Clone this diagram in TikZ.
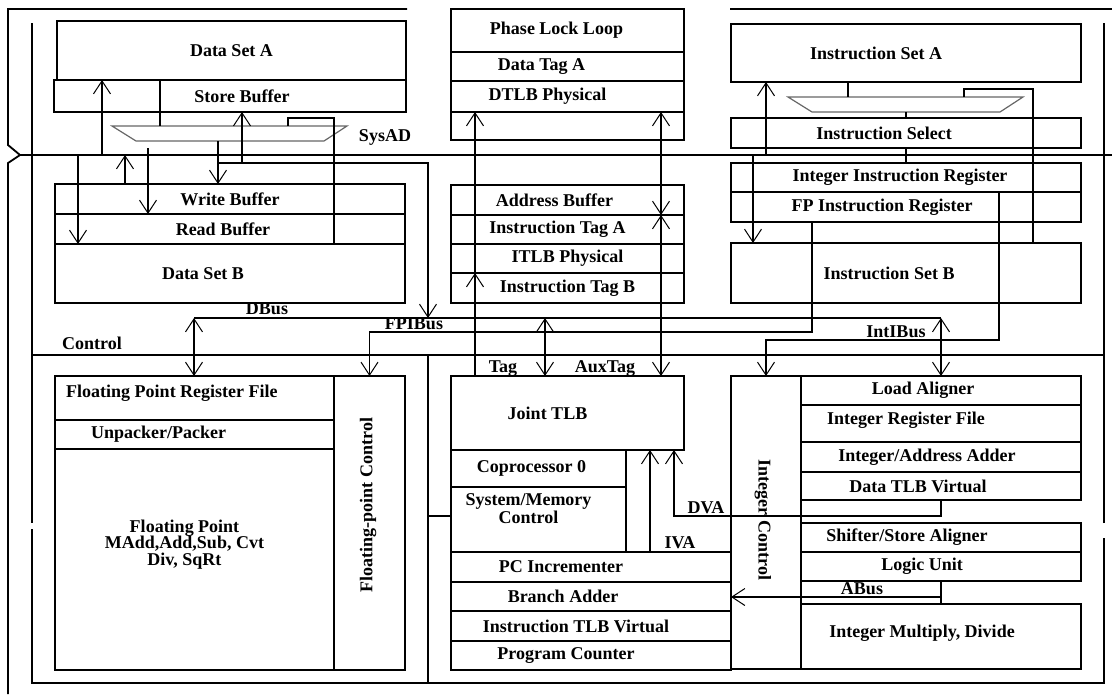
\documentclass[tikz,border=0pt]{standalone}
\usepackage{fontspec}
\setmainfont{Liberation Serif}
\usetikzlibrary{positioning,arrows.meta}

\tikzset{
  blk/.style={draw, inner sep=0pt, outer sep=0pt},
  tx/.style 2 args={label={[xshift=#1]center:{#2}}},
  arr/.style={-{Straight Barb[length=13pt,width=17pt,line width=1pt]}},
  biarr/.style={{Straight Barb[length=13pt,width=17pt,line width=1pt]}-{Straight Barb[length=13pt,width=17pt,line width=1pt]}},
  mux/.style={draw=black!60, line width=1.2pt},
}

\begin{document}
\begin{tikzpicture}[x=1pt, y=-1pt, line width=1.8pt, font=\bfseries\fontsize{18}{18}\selectfont]
  \useasboundingbox (0,0) rectangle (1112,694);

  % frame and control lines
  \draw (407,9) -- (8,9) -- (8,145) -- (20,155) -- (8,163) -- (8,694);
  \draw (730,9) -- (1112,9);
  \draw (32,23) -- (32,523);
  \draw (32,529) -- (32,683) -- (1104,683) -- (1104,538);
  \draw (1104,523) -- (1104,23);
  \draw (32,355) -- (1104,355);
  \draw (428,355) -- (428,683);
  \coordinate (sysad) at (20,155);
  \draw (sysad) -- (1112,155);
  \node (sysadlbl) at (385,137) {SysAD};
  \node (ctrllbl) at (92,343) {Control};

  % data cache
  \node[blk, minimum width=349pt, minimum height=59pt] (dsa) at (231.5,50.5) {Data Set A};
  \node[blk, minimum width=352pt, minimum height=32pt, tx={12pt}{Store Buffer}] (stbuf) at (230,96) {};
  \node[blk, minimum width=350pt, minimum height=30pt] (wbuf) at (230,199) {Write Buffer};
  \node[blk, minimum width=350pt, minimum height=30pt, below=0pt of wbuf, tx={-7pt}{Read Buffer}] (rbuf) {};
  \node[blk, minimum width=350pt, minimum height=59pt, below=0pt of rbuf, tx={-27pt}{Data Set B}] (dsb) {};
  \draw[mux] (112,126) coordinate (smuxT) -- (347,126) -- (324,141) -- (136,141) coordinate (smuxB) -- cycle;

  % tags
  \node[blk, minimum width=233pt, minimum height=43pt, tx={-11pt}{Phase Lock Loop}] (pll) at (567.5,30.5) {};
  \node[blk, minimum width=233pt, minimum height=29pt, below=0pt of pll, tx={-26pt}{Data Tag A}] (dtaga) {};
  \node[blk, minimum width=233pt, minimum height=31pt, below=0pt of dtaga, tx={-20pt}{DTLB Physical}] (dtlbp) {};
  \node[blk, minimum width=233pt, minimum height=28pt, below=0pt of dtlbp] (dtlbx) {};
  \node[blk, minimum width=233pt, minimum height=30pt, tx={-13pt}{Address Buffer}] (abuf) at (567.5,200) {};
  \node[blk, minimum width=233pt, minimum height=29pt, below=0pt of abuf, tx={-10pt}{Instruction Tag A}] (itaga) {};
  \node[blk, minimum width=233pt, minimum height=29pt, below=0pt of itaga] (itlbp) {ITLB Physical};
  \node[blk, minimum width=233pt, minimum height=30pt, below=0pt of itlbp] (itagb) {Instruction Tag B};

  % instruction cache
  \node[blk, minimum width=350pt, minimum height=58pt, tx={-30pt}{Instruction Set A}] (isa) at (906,53) {};
  \node[blk, minimum width=350pt, minimum height=30pt, tx={-22pt}{Instruction Select}] (isel) at (906,133) {};
  \node[blk, minimum width=350pt, minimum height=29pt, tx={-6pt}{Integer Instruction Register}] (iir) at (906,177.5) {};
  \node[blk, minimum width=350pt, minimum height=30pt, below=0pt of iir, tx={-24pt}{FP Instruction Register}] (fpir) {};
  \node[blk, minimum width=350pt, minimum height=60pt, tx={-17pt}{Instruction Set B}] (isb) at (906,273) {};
  \draw[mux] (788,97) coordinate (imuxT) -- (1023,97) -- (1000,112) -- (812,112) coordinate (imuxB) -- cycle;

  % floating point unit
  \node[blk, minimum width=279pt, minimum height=44pt,
        label={[anchor=west, xshift=7pt, yshift=5pt]west:Floating Point Register File}] (fprf) at (194.5,398) {};
  \node[blk, minimum width=279pt, minimum height=29pt, below=0pt of fprf, tx={-36pt}{Unpacker/Packer}] (unpk) {};
  \node[blk, minimum width=279pt, minimum height=221pt, below=0pt of unpk,
        label={[align=center, xshift=-10pt, yshift=15pt, font=\bfseries\fontsize{18}{16.5}\selectfont]center:{Floating Point\\MAdd,Add,Sub, Cvt\\Div, SqRt}}] (fpu) {};
  \node[blk, minimum width=71pt, minimum height=294pt] (fpctl) at (369.5,523) {};
  \node[rotate=90] (fpctltxt) at (368,505) {Floating-point Control};

  % TLB and PC
  \node[blk, minimum width=233pt, minimum height=74pt, tx={-20pt}{Joint TLB}] (jtlb) at (567.5,413) {};
  \node[blk, minimum width=175pt, minimum height=37pt, tx={-7pt}{Coprocessor 0}] (cp0) at (538.5,468.5) {};
  \node[blk, minimum width=175pt, minimum height=65pt, below=0pt of cp0,
        label={[align=center, xshift=-10pt, yshift=11pt, font=\bfseries\fontsize{18}{14}\selectfont]center:{System/Memory\\Control}}] (smc) {};
  \node[blk, minimum width=280pt, minimum height=30pt, tx={-30pt}{PC Incrementer}] (pcinc) at (591,567) {};
  \node[blk, minimum width=280pt, minimum height=29pt, below=0pt of pcinc, tx={-28pt}{Branch Adder}] (badd) {};
  \node[blk, minimum width=280pt, minimum height=30pt, below=0pt of badd, tx={-15pt}{Instruction TLB Virtual}] (itlbv) {};
  \node[blk, minimum width=280pt, minimum height=29pt, below=0pt of itlbv, tx={-25pt}{Program Counter}] (pc) {};
  \draw (428,516) -- (smc.west |- 0,516);

  % integer unit
  \node[blk, minimum width=70pt, minimum height=293pt] (ictl) at (766,522.5) {};
  \node[rotate=-90] (ictltxt) at (763,520) {Integer Control};
  \node[blk, minimum width=280pt, minimum height=29pt, tx={-18pt}{Load Aligner}] (lal) at (941,390.5) {};
  \node[blk, minimum width=280pt, minimum height=37pt, below=0pt of lal, label={[xshift=-35pt, yshift=3pt]center:Integer Register File}] (irf) {};
  \node[blk, minimum width=280pt, minimum height=30pt, below=0pt of irf, tx={-14pt}{Integer/Address Adder}] (iaa) {};
  \node[blk, minimum width=280pt, minimum height=28pt, below=0pt of iaa, tx={-23pt}{Data TLB Virtual}] (dtlbv) {};
  \node[blk, minimum width=280pt, minimum height=29pt, tx={-34pt}{Shifter/Store Aligner}] (ssa) at (941,537.5) {};
  \node[blk, minimum width=280pt, minimum height=29pt, below=0pt of ssa, tx={-19pt}{Logic Unit}] (lu) {};
  \node[blk, minimum width=280pt, minimum height=65pt, label={[xshift=-19pt, yshift=3pt]center:{Integer Multiply, Divide}}] (imd) at (941,636.5) {};

  % data cache connections
  \draw[arr] (102,0 |- sysad) -- (102,0 |- dsa.south);
  \draw (160,0 |- smuxT) -- (160,0 |- stbuf.north);
  \draw[arr] (218,0 |- smuxB) -- (218,0 |- wbuf.north);
  \coordinate (sbr) at (218,163);
  \coordinate (dbusL) at (194,318);
  \coordinate (dbusR) at (941,318);
  \draw[arr] (sbr) -| (428,0 |- dbusL);
  \draw[arr] (242,0 |- sbr) -- (242,0 |- stbuf.south);
  \draw (288,0 |- smuxT) |- (334,118) -- (334,0 |- dsb.north);
  \draw[arr] (125,0 |- wbuf.north) -- (125,0 |- sysad);
  \draw[arr] (148,148) -- (148,0 |- wbuf.south);
  \draw[arr] (78,0 |- sysad) -- (78,0 |- rbuf.south);

  % instruction cache connections
  \draw[arr] (766,0 |- sysad) -- (766,0 |- isa.south);
  \draw[arr] (753,0 |- sysad) -- (753,0 |- isb.north);
  \draw (848,0 |- isa.south) -- (848,0 |- imuxT);
  \draw (isel.north |- imuxB) -- (isel.north);
  \draw (isel.south) -- (iir.north);
  \draw (964,0 |- imuxT) |- (1033,89) -- (1033,0 |- isb.north);

  % buses
  \draw (dbusL) -- (dbusR);
  \node (dbuslbl) at (267,309) {DBus};
  \draw[biarr] (dbusL) -- (194,0 |- fprf.north);
  \draw[biarr] (545,0 |- dbusL) -- (545,0 |- jtlb.north);
  \draw[biarr] (dbusR) -- (941,0 |- lal.north);
  \draw[arr] (812,0 |- fpir.south) |- (fpctl.north |- 0,332) -- (fpctl.north);
  \node (fpibuslbl) at (414,324) {FPIBus};
  \draw[arr] (999,0 |- fpir.north) |- (ictl.north |- 0,340) -- (ictl.north);
  \node (intibuslbl) at (896,332) {IntIBus};

  % tag lines
  \draw[arr] (475,0 |- jtlb.north) -- (475,0 |- itagb.north);
  \draw[arr] (475,0 |- itagb.north) -- (475,0 |- dtlbp.south);
  \draw[biarr] (661,0 |- itaga.north) -- (661,0 |- dtlbp.south);
  \draw[biarr] (661,0 |- itaga.north) -- (661,0 |- jtlb.north);
  \node (taglbl) at (503,369) {Tag};
  \node (auxtaglbl) at (605,369) {AuxTag};

  % virtual addresses
  \draw[arr] (650,0 |- pcinc.north) -- (650,0 |- jtlb.south);
  \node (ivalbl) at (680,543) {IVA};
  \draw[arr] (dtlbv.south) |- (674,516) -- (674,0 |- jtlb.south);
  \node (dvalbl) at (706,508) {DVA};
  \coordinate (abus) at (941,597);
  \draw (lu.south) -- (imd.north);
  \draw[arr] (abus) -- (badd.east |- abus);
  \node (abuslbl) at (862,589) {ABus};
\end{tikzpicture}
\end{document}
